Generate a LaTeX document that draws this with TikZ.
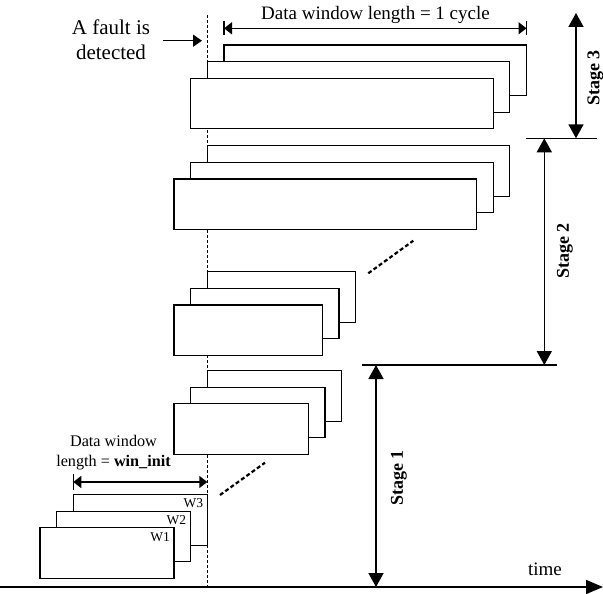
\documentclass[tikz,border=0pt]{standalone}
\usepackage{fontspec}
\setmainfont{Liberation Serif}
\usetikzlibrary{arrows.meta}
\begin{document}
\begin{tikzpicture}[x=1pt,y=-1pt,
  win/.style={draw, fill=white, line width=1.3pt, inner sep=0pt, outer sep=0pt,
              anchor=north west, minimum height=50.5pt},
  wide/.style={win, minimum width=302.5pt},
  mid/.style={win, minimum width=148.4pt},
  narrow/.style={win, minimum width=134.3pt},
  wlabel/.style={anchor=north east, inner sep=0pt, font=\fontsize{13.5}{13.5}\selectfont},
  dimline/.style={line width=1.5pt,
    {Triangle[length=8pt,width=12pt]}-{Triangle[length=8pt,width=12pt]}},
  dimbar/.style={line width=1.5pt},
  stagearrow/.style={line width=1.5pt,
    {Triangle[length=14pt,width=15pt]}-{Triangle[length=14pt,width=15pt]}},
  stageline/.style={line width=1.3pt},
  stagelabel/.style={rotate=90, font=\bfseries\fontsize{18}{18}\selectfont},
  gap/.style={line width=2.2pt, dash pattern=on 4pt off 2.5pt},
  txt/.style={anchor=base, inner sep=0pt, font=\fontsize{19}{22}\selectfont},
  smalltxt/.style={anchor=base, inner sep=0pt, font=\fontsize{16.2}{20}\selectfont},
]
\useasboundingbox (0,0) rectangle (603,594);

% instant of fault detection
\coordinate (ftop) at (207.3,15);
\coordinate (fbot) at (207.3,587);
\draw[line width=1.2pt, dash pattern=on 3pt off 2pt] (ftop) -- (fbot);

% stage 3 windows
\node[wide] (s3c) at (224,45) {};
\node[wide] (s3b) at (207.3,61.7) {};
\node[wide] (s3a) at (190.7,78.3) {};

% stage 2 windows (long)
\node[wide] (s2c) at (207.3,145.7) {};
\node[wide] (s2b) at (190.7,162.3) {};
\node[wide] (s2a) at (174,179) {};

% stage 2 windows (short)
\node[mid] (m2c) at (207.3,271.7) {};
\node[mid] (m2b) at (190.7,288.3) {};
\node[mid] (m2a) at (174,305) {};

% stage 1 windows (after the fault)
\node[narrow] (s1c) at (207.3,370.7) {};
\node[narrow] (s1b) at (190.7,387.3) {};
\node[narrow] (s1a) at (174,403.7) {};

% stage 1 initial windows W1..W3
\node[win, minimum width=134pt] (w3) at (73.3,494.7) {};
\node[win, minimum width=134pt] (w2) at (56.7,511.2) {};
\node[win, minimum width=134pt] (w1) at (40,527.7) {};
\node[wlabel] at ([xshift=-4pt,yshift=-3.3pt]w3.north east) {W3};
\node[wlabel] at ([xshift=-4.5pt,yshift=-4pt]w2.north east) {W2};
\node[wlabel] at ([xshift=-4pt,yshift=-5pt]w1.north east) {W1};

% continuation marks
\coordinate (g1a) at (368.3,273.3);
\coordinate (g1b) at (413.3,240.7);
\draw[gap] (g1a) -- (g1b);
\coordinate (g2a) at (220,495);
\coordinate (g2b) at (265,462.7);
\draw[gap] (g2a) -- (g2b);

% data window length = 1 cycle
\coordinate (d1l) at (224,28.3);
\coordinate (d1r) at (526.5,28.3);
\draw[dimline] (d1l) -- (d1r);
\draw[dimbar] ([yshift=7pt]d1l) -- ([yshift=-7pt]d1l);
\draw[dimbar] ([yshift=7pt]d1r) -- ([yshift=-7pt]d1r);
\node[txt] (d1t) at (375.5,20) {Data window length = 1 cycle};

% data window length = win_init
\coordinate (d2l) at (73.3,482);
\coordinate (d2r) at (207.3,482);
\draw[dimline] (d2l) -- (d2r);
\draw[dimbar] ([yshift=8pt]d2l) -- ([yshift=-8pt]d2l);
\node[smalltxt] (d2t1) at (113.5,446.7) {Data window};
\node[smalltxt] (d2t2) at (113.5,466.7) {length = \textbf{win\_init}};

% fault annotation
\node[anchor=base, inner sep=0pt, font=\fontsize{21}{25}\selectfont] (fa1) at (111,35) {A fault is};
\node[anchor=base, inner sep=0pt, font=\fontsize{21}{25}\selectfont] (fa2) at (111,60) {detected};
\coordinate (fa0) at (163,40.7);
\coordinate (fa9) at (202,40.7);
\draw[line width=1.5pt, -{Triangle[length=9pt,width=12pt]}] (fa0) -- (fa9);

% stage boundaries
\coordinate (b3l) at (526,138.3);
\coordinate (b3r) at (597,138.3);
\draw[stageline] (b3l) -- (b3r);
\coordinate (b2l) at (361.7,365);
\coordinate (b2r) at (557.3,365);
\draw[stageline] (b2l) -- (b2r);

% time axis
\coordinate (t0) at (0,587);
\coordinate (t1) at (603,587);
\draw[line width=1.6pt, -{Triangle[length=17pt,width=14pt]}] (t0) -- (t1);
\node[txt] (tl) at (545,575) {time};

% stage arrows
\coordinate (a3t) at (576,13);
\coordinate (a3b) at (576,138.3);
\draw[stagearrow] (a3t) -- (a3b);
\node[stagelabel] (l3) at (595.5,78) {Stage 3};

\coordinate (a2t) at (544.3,138.3);
\coordinate (a2b) at (544.3,365);
\draw[stagearrow] (a2t) -- (a2b);
\node[stagelabel] (l2) at (565,251) {Stage 2};

\coordinate (a1t) at (376,365);
\coordinate (a1b) at (376,587);
\draw[stagearrow] (a1t) -- (a1b);
\node[stagelabel] (l1) at (399,478) {Stage 1};
\end{tikzpicture}
\end{document}
